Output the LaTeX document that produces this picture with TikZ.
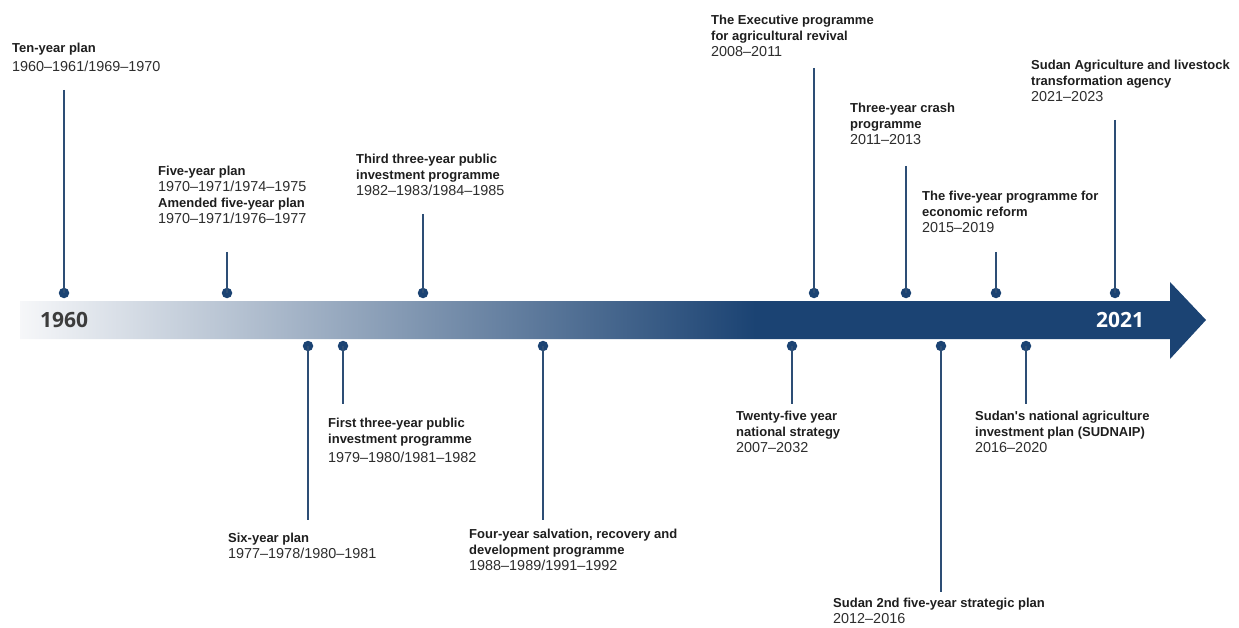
\documentclass[tikz,border=0pt]{standalone}
\usepackage{fontspec}
\setmainfont{Liberation Sans}
\newfontfamily\yearfont{Open Sans}
\definecolor{navy}{RGB}{27,67,115}
\definecolor{bandstart}{RGB}{246,247,249}
\definecolor{stem}{RGB}{45,78,117}
\definecolor{ttlc}{RGB}{30,30,30}
\definecolor{datec}{RGB}{45,45,45}
\definecolor{yearc}{RGB}{60,60,60}
\pgfdeclarehorizontalshading{band}{100bp}{color(0bp)=(bandstart); color(25bp)=(bandstart); color(56bp)=(navy); color(100bp)=(navy)}
\newcommand{\ttl}[1]{{\fontsize{13}{16}\selectfont\bfseries\color{ttlc}#1}}
\newcommand{\dte}[1]{{\fontsize{14.4}{16}\selectfont\color{datec}#1}}
\tikzset{
  lbl/.style={anchor=north west, inner sep=0pt, align=left, font=\fontsize{13}{16}\selectfont},
  dot/.style={circle, fill=navy, inner sep=0pt, minimum size=10.5pt},
  stemline/.style={draw=stem, line width=2pt},
  yr/.style={inner sep=0pt, font=\yearfont\bfseries\fontsize{21}{24}\selectfont}
}
\begin{document}
\begin{tikzpicture}[x=1pt,y=-1pt]
\useasboundingbox (0,0) rectangle (1239,628);
% arrow band
\shade[shading=band] (20,301) -- (1170,301) -- (1170,282) -- (1206,320) -- (1170,359) -- (1170,339) -- (20,339) -- cycle;
\node[yr, text=yearc, anchor=west] (y1960) at (40,320) {1960};
\node[yr, text=white, anchor=west] (y2021) at (1096,320) {2021};

% upper markers
\node[dot] (d1) at (64,293) {};
\node[dot] (d2) at (227,293) {};
\node[dot] (d3) at (423,293) {};
\node[dot] (d4) at (814,293) {};
\node[dot] (d5) at (906,293) {};
\node[dot] (d6) at (996,293) {};
\node[dot] (d7) at (1115,293) {};
\coordinate (t1) at (64,90);
\coordinate (t2) at (227,252);
\coordinate (t3) at (423,214);
\coordinate (t4) at (814,68);
\coordinate (t5) at (906,166);
\coordinate (t6) at (996,252);
\coordinate (t7) at (1115,120);
\foreach \i in {1,...,7} \draw[stemline] (t\i) -- (d\i.center);

% lower markers
\node[dot] (e1) at (308,346) {};
\node[dot] (e2) at (343,346) {};
\node[dot] (e3) at (543,346) {};
\node[dot] (e4) at (792,346) {};
\node[dot] (e5) at (941,346) {};
\node[dot] (e6) at (1026,346) {};
\coordinate (b1) at (308,520);
\coordinate (b2) at (343,404);
\coordinate (b3) at (543,520);
\coordinate (b4) at (792,404);
\coordinate (b5) at (941,592);
\coordinate (b6) at (1026,404);
\foreach \i in {1,...,6} \draw[stemline] (e\i.center) -- (b\i);

% upper labels
\node[lbl] (l1) at (12,43) {\ttl{Ten-year plan}\\[3pt]\dte{1960–1961/1969–1970}};
\node[lbl] (l2) at (158,166) {\ttl{Five-year plan}\\\dte{1970–1971/1974–1975}\\\ttl{Amended five-year plan}\\\dte{1970–1971/1976–1977}};
\node[lbl] (l3) at (356,154) {\ttl{Third three-year public}\\\ttl{investment programme}\\\dte{1982–1983/1984–1985}};
\node[lbl] (l4) at (711,15) {\ttl{The Executive programme}\\\ttl{for agricultural revival}\\\dte{2008–2011}};
\node[lbl] (l5) at (850,103) {\ttl{Three-year crash}\\\ttl{programme}\\\dte{2011–2013}};
\node[lbl] (l6) at (922,191) {\ttl{The five-year programme for}\\\ttl{economic reform}\\\dte{2015–2019}};
\node[lbl] (l7) at (1031,60) {\ttl{Sudan Agriculture and livestock}\\\ttl{transformation agency}\\\dte{2021–2023}};

% lower labels
\node[lbl] (m1) at (228,533) {\ttl{Six-year plan}\\\dte{1977–1978/1980–1981}};
\node[lbl] (m2) at (328,418) {\ttl{First three-year public}\\\ttl{investment programme}\\[3pt]\dte{1979–1980/1981–1982}};
\node[lbl] (m3) at (469,529) {\ttl{Four-year salvation, recovery and}\\\ttl{development programme}\\\dte{1988–1989/1991–1992}};
\node[lbl] (m4) at (736,411) {\ttl{Twenty-five year}\\\ttl{national strategy}\\\dte{2007–2032}};
\node[lbl] (m5) at (833,598) {\ttl{Sudan 2nd five-year strategic plan}\\\dte{2012–2016}};
\node[lbl] (m6) at (975,411) {\ttl{Sudan\textquotesingle s national agriculture}\\\ttl{investment plan (SUDNAIP)}\\\dte{2016–2020}};
\end{tikzpicture}
\end{document}
